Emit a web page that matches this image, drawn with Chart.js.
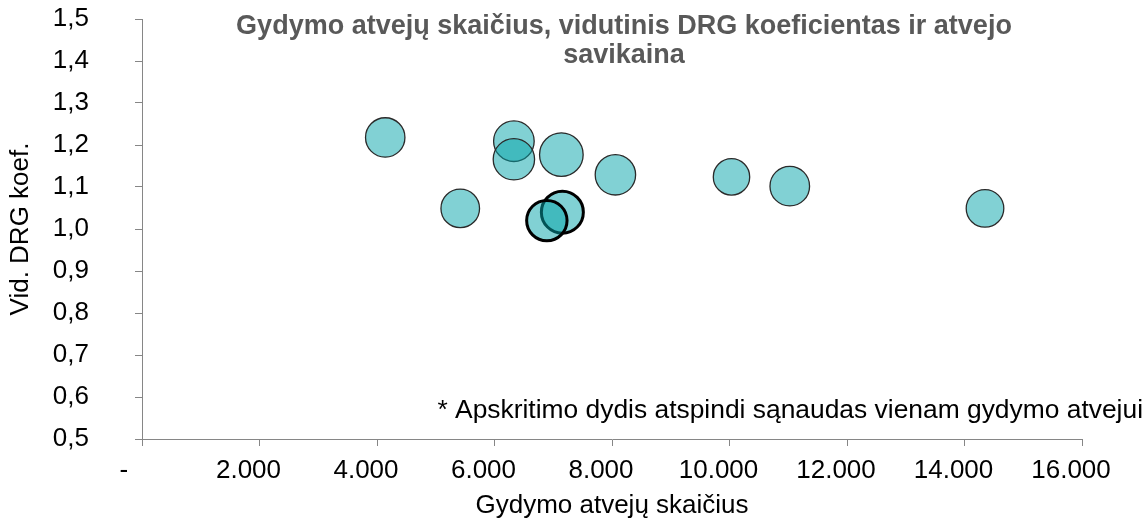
<!DOCTYPE html>
<html lang="lt">

<head>
  <meta charset="UTF-8" />
  <title>Gydymo atvejų skaičius ir DRG koeficientas</title>
  <script src="https://cdn.jsdelivr.net/npm/chart.js"></script>
  <style>
    html,
    body {
      margin: 0;
      padding: 0;
      background-color: #fff;
    }

    #chart-wrap {
      position: relative;
      width: 1147px;
      height: 525px;
    }
  </style>
</head>

<body>
  <div id="chart-wrap">
    <canvas id="drgChart"></canvas>
  </div>

  <script>
    // Gydymo atvejų skaičius
    const atvejai = [4140, 5417, 6330, 6330, 7138, 8058, 10034, 11026, 14349, 7155, 6891];
    // Vidutinis DRG koeficientas
    const drgKoef = [1.218, 1.049, 1.209, 1.166, 1.177, 1.129, 1.124, 1.102, 1.049, 1.040, 1.020];
    // Vieno gydymo atvejo savikaina, EUR
    const savikaina = [792, 760, 841, 874, 970, 833, 676, 800, 721, 900, 833];

    const xTickLabels = ['-', '2.000', '4.000', '6.000', '8.000', '10.000', '12.000', '14.000', '16.000'];
    const yTickLabels = ['0,5', '0,6', '0,7', '0,8', '0,9', '1,0', '1,1', '1,2', '1,3', '1,4', '1,5'];

    const pavadinimas = ['Gydymo atvejų skaičius, vidutinis DRG koeficientas ir atvejo', 'savikaina'];
    const pastaba = '* Apskritimo dydis atspindi sąnaudas vienam gydymo atvejui';

    // paryškintos ligoninės (storesnis kontūras)
    const paryskinti = [9, 10];

    // apskritimo plotas proporcingas savikainai
    const bubbleScale = 0.7;

    const FONT = '"Liberation Sans", Arial, sans-serif';
    const AXIS_GRAY = '#868686';

    Chart.defaults.font.family = FONT;
    Chart.defaults.font.size = 26;
    Chart.defaults.color = '#000';

    const points = atvejai.map((x, i) => ({
      x: x,
      y: drgKoef[i],
      r: bubbleScale * Math.sqrt(savikaina[i])
    }));

    // pavadinimas ir pastaba piešiami ant grafiko ploto
    const textPlugin = {
      id: 'textPlugin',
      afterDraw(chart) {
        const { ctx, chartArea } = chart;
        ctx.save();
        ctx.textBaseline = 'middle';

        ctx.fillStyle = '#595959';
        ctx.font = 'bold 27px ' + FONT;
        ctx.textAlign = 'center';
        pavadinimas.forEach((line, i) => {
          ctx.fillText(line, 624, 27 + i * 29);
        });

        ctx.fillStyle = '#000';
        ctx.font = '26.4px ' + FONT;
        ctx.textAlign = 'right';
        ctx.fillText(pastaba, chartArea.right + 61, chartArea.bottom - 28);
        ctx.restore();
      }
    };

    const drgChart = new Chart(document.getElementById('drgChart'), {
      type: 'bubble',
      data: {
        datasets: [{
          data: points,
          backgroundColor: 'rgba(3, 164, 170, 0.5)',
          borderColor: (c) => paryskinti.includes(c.dataIndex) ? '#000' : '#2a2a2a',
          borderWidth: (c) => paryskinti.includes(c.dataIndex) ? 3 : 1.3,
          hoverBorderWidth: (c) => paryskinti.includes(c.dataIndex) ? 3 : 1.3
        }]
      },
      options: {
        responsive: true,
        maintainAspectRatio: false,
        animation: false,
        layout: {
          autoPadding: false,
          padding: { top: 19, right: 65, left: 0, bottom: 0 }
        },
        scales: {
          x: {
            type: 'linear',
            min: 0,
            max: 16000,
            afterFit: (s) => { s.height = 86; },
            ticks: {
              stepSize: 2000,
              autoSkip: false,
              maxRotation: 0,
              padding: 9,
              labelOffset: -11,
              callback: (v, i) => i === 0 ? xTickLabels[i] + '  ' : xTickLabels[i]
            },
            grid: {
              drawOnChartArea: false,
              drawTicks: true,
              tickLength: 7,
              color: AXIS_GRAY
            },
            border: { color: AXIS_GRAY },
            title: {
              display: true,
              text: 'Gydymo atvejų skaičius',
              padding: { top: 0, bottom: 4 }
            }
          },
          y: {
            min: 0.5,
            max: 1.5,
            afterFit: (s) => {
              // platus tarpas tarp skaičių ir ašies neturi stumti ploto žemyn
              s.width = 142;
              s.paddingTop = 16;
              s.paddingBottom = 16;
            },
            ticks: {
              stepSize: 0.1,
              padding: 46,
              callback: (v, i) => yTickLabels[i]
            },
            grid: {
              drawOnChartArea: false,
              drawTicks: true,
              tickLength: 7,
              color: AXIS_GRAY
            },
            border: { color: AXIS_GRAY },
            title: {
              display: true,
              text: 'Vid. DRG koef.',
              padding: { top: 5, bottom: 0 }
            }
          }
        },
        plugins: {
          legend: { display: false },
          tooltip: { enabled: false }
        }
      },
      plugins: [textPlugin]
    });
  </script>
</body>

</html>
